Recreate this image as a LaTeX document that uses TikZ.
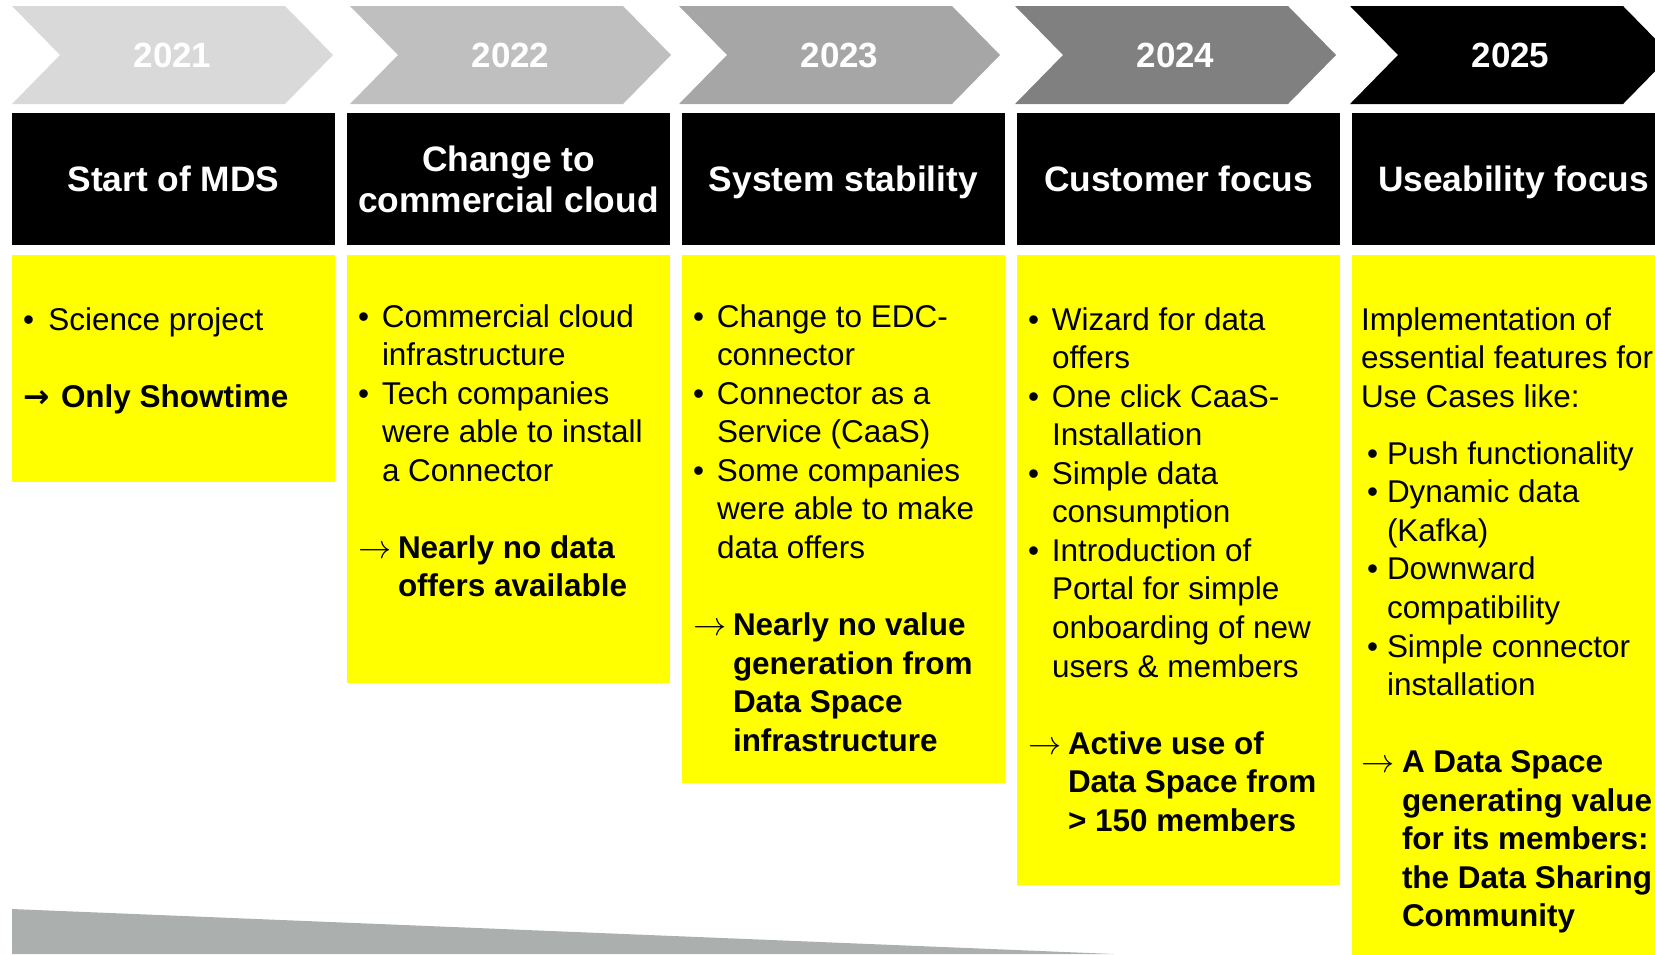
\documentclass[tikz,border=0pt]{standalone}
\usepackage{fontspec}
\setmainfont{Liberation Sans}
\newfontfamily\arrfont{DejaVu Sans}
\usepackage{tikz}
\usetikzlibrary{positioning,calc}
\definecolor{grey21}{HTML}{D9D9D9}
\definecolor{grey22}{HTML}{BFBFBF}
\definecolor{grey23}{HTML}{A6A6A6}
\definecolor{grey24}{HTML}{808080}
\definecolor{grey25}{HTML}{000000}
\definecolor{wedgegrey}{HTML}{ABB0AF}
\definecolor{mdsyellow}{HTML}{FFFF00}
\newcommand{\bulpt}[1][18pt]{\makebox[#1][l]{\textbullet}}
\newcommand{\indpt}[1][18pt]{\hspace*{#1}}
\newcommand{\arrpt}[1][30pt]{\makebox[#1][l]{$\rightarrow$}}
\tikzset{
    %Define style for year labels
    year/.style={
           text=white,
           font=\bfseries\fontsize{26.25pt}{30pt}\selectfont},
    %Define style for black header boxes
    head/.style={
           fill=black, text=white, align=center, inner sep=0pt,
           minimum width=242.25pt, minimum height=99pt,
           font=\bfseries\fontsize{26.5pt}{30.75pt}\selectfont},
    % single line headers sit on the same baseline
    oneline/.style={
           text depth=0pt},
    % Define style for yellow panels
    panel/.style={
           fill=mdsyellow, inner sep=0pt,
           minimum width=242.25pt},
    % Define style for panel texts
    body/.style={
           anchor=base west, inner sep=0pt,
           font=\fontsize{23.6pt}{28.9pt}\selectfont}
}

\begin{document}
\begin{tikzpicture}[x=0.75pt, y=-0.75pt]
	\clip (0,0) rectangle (1655,954);

	% Year arrows
	\foreach \yr/\xl/\col in {2021/12/grey21,2022/350/grey22,2023/679/grey23,2024/1015/grey24,2025/1350/grey25}{
		\fill[\col] (\xl,6) -- ++(273,0) -- ++(48,49) -- ++(-48,49) -- ++(-273,0) -- ++(48,-49) -- cycle;
		\node[year] (yr\yr) at (\xl+160.5,55) {\yr};
	}

	% Header boxes
	\node[head, oneline] (h1) at (173.5,179) {Start of MDS};
	\node[head, right=8.6pt of h1] (h2) {Change to\\commercial cloud};
	\node[head, oneline, right=8.6pt of h2] (h3) {System stability};
	\node[head, oneline, right=8.6pt of h3] (h4) {Customer focus};
	\node[head, oneline, right=8.6pt of h4] (h5) {Useability focus};

	% Yellow panels
	\node[panel, minimum height=170.6pt, below=7.1pt of h1] (p1) {};
	\node[panel, minimum height=321pt, below=7.1pt of h2] (p2) {};
	\node[panel, minimum height=396pt, below=7.1pt of h3] (p3) {};
	\node[panel, minimum height=472.5pt, below=7.1pt of h4] (p4) {};
	\node[panel, minimum height=525pt, below=7.1pt of h5] (p5) {};

	% Panel texts
	\node[body] (t1) at ($(p1.north west)+(11,75.5)$) {\begin{tabular}[t]{@{}l@{}}
		\bulpt[19pt]Science project\\
		\\
		\makebox[28.5pt][l]{\arrfont\bfseries →}\textbf{Only Showtime}
	\end{tabular}};
	\node[body] (t2) at ($(p2.north west)+(11,72.5)$) {\begin{tabular}[t]{@{}l@{}}
		\bulpt Commercial cloud\\
		\indpt infrastructure\\
		\bulpt Tech companies\\
		\indpt were able to install\\
		\indpt a Connector\\
		\\
		\arrpt\textbf{Nearly no data}\\
		\indpt[30pt]\textbf{offers available}
	\end{tabular}};
	\node[body] (t3) at ($(p3.north west)+(11,72.5)$) {\begin{tabular}[t]{@{}l@{}}
		\bulpt Change to EDC-\\
		\indpt connector\\
		\bulpt Connector as a\\
		\indpt Service (CaaS)\\
		\bulpt Some companies\\
		\indpt were able to make\\
		\indpt data offers\\
		\\
		\arrpt\textbf{Nearly no value}\\
		\indpt[30pt]\textbf{generation from}\\
		\indpt[30pt]\textbf{Data Space}\\
		\indpt[30pt]\textbf{infrastructure}
	\end{tabular}};
	\node[body] (t4) at ($(p4.north west)+(11,75.5)$) {\begin{tabular}[t]{@{}l@{}}
		\bulpt Wizard for data\\
		\indpt offers\\
		\bulpt One click CaaS-\\
		\indpt Installation\\
		\bulpt Simple data\\
		\indpt consumption\\
		\bulpt Introduction of\\
		\indpt Portal for simple\\
		\indpt onboarding of new\\
		\indpt users \& members\\
		\\
		\arrpt\textbf{Active use of}\\
		\indpt[30pt]\textbf{Data Space from}\\
		\indpt[30pt]\textbf{> 150 members}
	\end{tabular}};
	\node[body] (t5) at ($(p5.north west)+(9,75.5)$) {\begin{tabular}[t]{@{}l@{}}
		Implementation of\\
		essential features for\\
		Use Cases like:\\[13.9pt]
		\indpt[4.5pt]\bulpt[15pt]Push functionality\\
		\indpt[4.5pt]\bulpt[15pt]Dynamic data\\
		\indpt[19.5pt](Kafka)\\
		\indpt[4.5pt]\bulpt[15pt]Downward\\
		\indpt[19.5pt]compatibility\\
		\indpt[4.5pt]\bulpt[15pt]Simple connector\\
		\indpt[19.5pt]installation\\
		\\
		\arrpt[30.75pt]\textbf{A Data Space}\\
		\indpt[30.75pt]\textbf{generating value}\\
		\indpt[30.75pt]\textbf{for its members:}\\
		\indpt[30.75pt]\textbf{the Data Sharing}\\
		\indpt[30.75pt]\textbf{Community}
	\end{tabular}};

	% Bottom wedge
	\fill[wedgegrey] (12,909) -- (1114,954) -- (12,954) -- cycle;
\end{tikzpicture}
\end{document}
